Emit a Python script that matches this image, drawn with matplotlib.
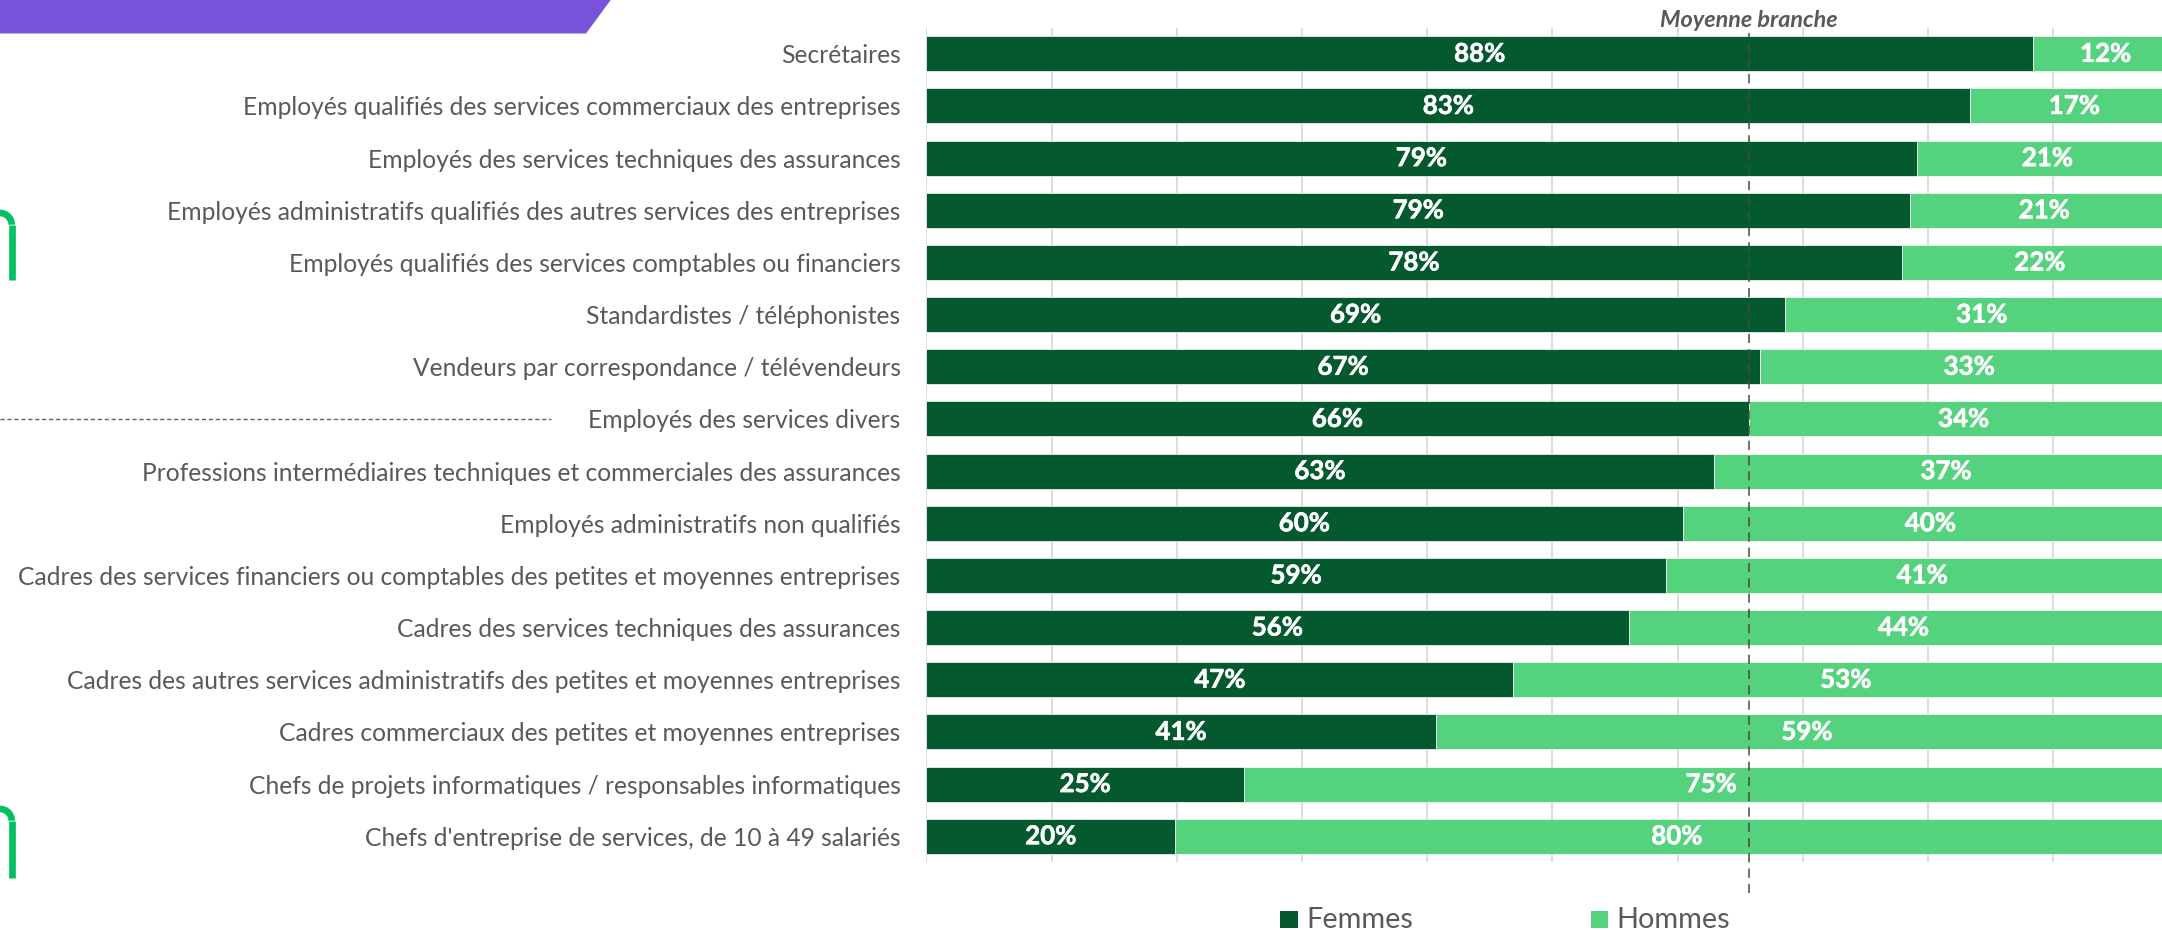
import matplotlib
matplotlib.use("Agg")
import matplotlib.pyplot as plt
from matplotlib.patches import Polygon, Arc, Rectangle
from matplotlib.lines import Line2D
import matplotlib.transforms as mtransforms
import matplotlib.patheffects as pe

plt.rcParams['font.family'] = ['Lato', 'DejaVu Sans']

categories = [
    "Secrétaires",
    "Employés qualifiés des services commerciaux des entreprises",
    "Employés des services techniques des assurances",
    "Employés administratifs qualifiés des autres services des entreprises",
    "Employés qualifiés des services comptables ou financiers",
    "Standardistes / téléphonistes",
    "Vendeurs par correspondance / télévendeurs",
    "Employés des services divers",
    "Professions intermédiaires techniques et commerciales des assurances",
    "Employés administratifs non qualifiés",
    "Cadres des services financiers ou comptables des petites et moyennes entreprises",
    "Cadres des services techniques des assurances",
    "Cadres des autres services administratifs des petites et moyennes entreprises",
    "Cadres commerciaux des petites et moyennes entreprises",
    "Chefs de projets informatiques / responsables informatiques",
    "Chefs d'entreprise de services, de 10 à 49 salariés",
]
femmes = [88.4, 83.4, 79.1, 78.6, 77.9, 68.6, 66.6, 65.7, 62.9, 60.4, 59.1, 56.1, 46.9, 40.7, 25.4, 19.9]
hommes = [11.6, 16.6, 20.9, 21.4, 22.1, 31.4, 33.4, 34.3, 37.1, 39.6, 40.9, 43.9, 53.1, 59.3, 74.6, 80.1]
femmes_labels = ["88%", "83%", "79%", "79%", "78%", "69%", "67%", "66%", "63%", "60%", "59%", "56%", "47%", "41%", "25%", "20%"]
hommes_labels = ["12%", "17%", "21%", "21%", "22%", "31%", "33%", "34%", "37%", "40%", "41%", "44%", "53%", "59%", "75%", "80%"]
series_names = ["Femmes", "Hommes"]
moyenne_branche = 65.7
moyenne_label = "Moyenne branche"

DARK = "#04592F"
LIGHT = "#54D27E"
GRAY_TXT = "#595959"
GRID = "#D9D9D9"

W, H = 2162, 930
fig = plt.figure(figsize=(W / 100, H / 100), dpi=100)
renderer = fig.canvas.get_renderer()


def fitted_size(text, target_px, base=16, **kw):
    t = fig.text(0, 0, text, fontsize=base, **kw)
    w = t.get_window_extent(renderer).width
    t.remove()
    return base * target_px / w


ax_left, ax_right = 926.3, 926.3 + 1252
ax_top, ax_bot = 27.7, 862.3
ax = fig.add_axes([ax_left / W, (H - ax_bot) / H, (ax_right - ax_left) / W, (ax_bot - ax_top) / H])
ax.set_facecolor("none")

ypos = list(range(len(categories)))
ax.barh(ypos, femmes, height=0.67, color=DARK, edgecolor="#FFFFFF", linewidth=0.5, zorder=3, label=series_names[0])
ax.barh(ypos, hommes, left=femmes, height=0.67, color=LIGHT, edgecolor="#FFFFFF", linewidth=0.5, zorder=3, label=series_names[1])
ax.set_xlim(0, 100)
ax.set_ylim(len(categories) - 0.5, -0.5)
ax.set_xticks(range(0, 101, 10))
ax.grid(axis="x", color=GRID, linewidth=1.3, zorder=0)
ax.set_axisbelow(True)
for s in ax.spines.values():
    s.set_visible(False)
ax.tick_params(axis="x", length=0, labelbottom=False)

cat_size = fitted_size(max(categories, key=len), 888)
ax.set_yticks(ypos)
ax.set_yticklabels(categories, fontsize=cat_size, color=GRAY_TXT)
ax.tick_params(axis="y", length=0, pad=18.5)

lab_size = fitted_size("12", 30, fontweight="bold")
stroke = [pe.withStroke(linewidth=0.45, foreground="white")]
for i in ypos:
    ax.text(femmes[i] / 2, i, femmes_labels[i], ha="center", va="center", color="white",
            fontsize=lab_size, fontweight="bold", zorder=6, path_effects=stroke)
    ax.text(femmes[i] + hommes[i] / 2, i, hommes_labels[i], ha="center", va="center", color="white",
            fontsize=lab_size, fontweight="bold", zorder=6, path_effects=stroke)

# average line
yfrac_low = (ax_bot - 893) / (ax_bot - ax_top)
yfrac_high = (ax_bot - 33) / (ax_bot - ax_top)
ax.axvline(moyenne_branche, ymin=yfrac_low, ymax=yfrac_high, color="#4A4A3C", linewidth=1.1,
           dashes=(6, 4), clip_on=False, zorder=7)
mb_size = fitted_size(moyenne_label, 178, fontweight="bold", fontstyle="italic")
trans = mtransforms.blended_transform_factory(ax.transData, ax.transAxes)
ax.text(moyenne_branche, (ax_bot - 27) / (ax_bot - ax_top), moyenne_label, transform=trans,
        ha="center", va="baseline", fontsize=mb_size, fontweight="bold", fontstyle="italic",
        color=GRAY_TXT, clip_on=False)

# overlay in pixel coordinates for decorations and legend
ov = fig.add_axes([0, 0, 1, 1], zorder=5)
ov.set_xlim(0, W)
ov.set_ylim(H, 0)
ov.axis("off")
ov.patch.set_alpha(0)

ov.add_patch(Polygon([(0, 0), (610.7, 0), (586, 33.5), (0, 33.5)], closed=True,
                     facecolor="#7852DA", edgecolor="none"))

ARC_G = "#00C060"
for cy, yend in [(224.7, 280), (820.7, 878)]:
    ov.add_patch(Arc((0, cy), 2 * 11.7, 2 * 11.7, theta1=270, theta2=360, color=ARC_G, linewidth=4.8))
    ov.add_line(Line2D([11.7, 11.7], [cy, yend], color=ARC_G, linewidth=4.8, solid_capstyle="butt"))

row_center = ax_top + (ax_bot - ax_top) / len(categories) * (categories.index("Employés des services divers") + 0.5)
ov.add_line(Line2D([0, 551], [row_center, row_center], color="#4F6F55", linewidth=1.0, dashes=(3, 2)))

leg_size = fitted_size(series_names[0], 107)
for (sx, tx), name, col in zip([(1280, 1306.7), (1590.7, 1616.7)], series_names, [DARK, LIGHT]):
    ov.add_patch(Rectangle((sx, 911), 17.5, 17, facecolor=col, edgecolor="none"))
    ov.text(tx, 928, name, fontsize=leg_size, color=GRAY_TXT, ha="left", va="baseline")

fig.savefig("out.png", dpi=100, facecolor="white")
